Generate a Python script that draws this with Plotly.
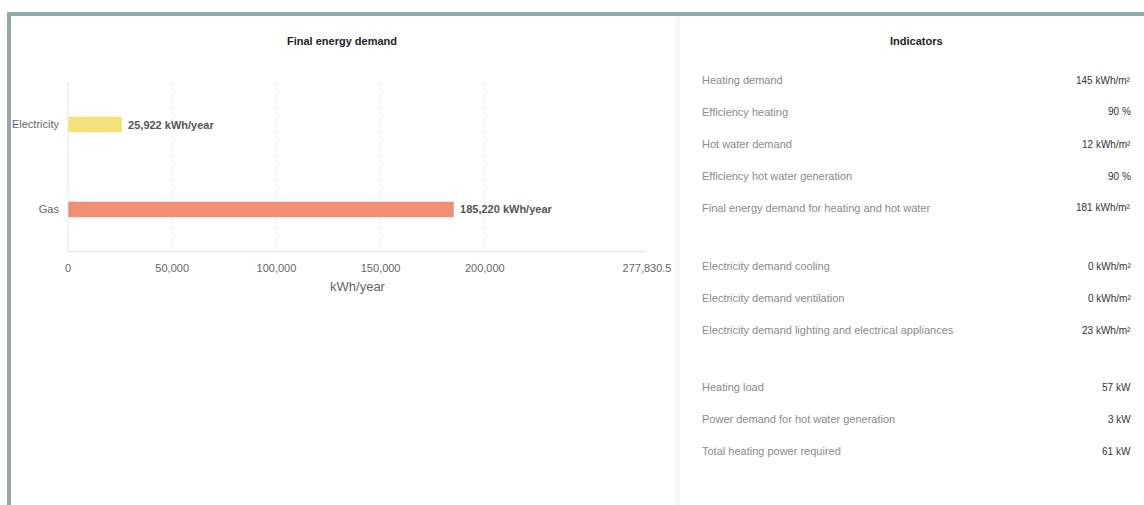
import plotly.graph_objects as go

# ---- data ----
categories = ["Electricity", "Gas"]
demand_kwh = [25922, 185220]
bar_colors = ["#f4e17a", "#f08e74"]
axis_max = 277830.5
tick_values = [0, 50000, 100000, 150000, 200000, 277830.5]
tick_labels = ["0", "50,000", "100,000", "150,000", "200,000", "277,830.5"]

indicator_labels = [
    "Heating demand", "Efficiency heating", "Hot water demand",
    "Efficiency hot water generation", "Final energy demand for heating and hot water",
    "Electricity demand cooling", "Electricity demand ventilation",
    "Electricity demand lighting and electrical appliances",
    "Heating load", "Power demand for hot water generation", "Total heating power required",
]
indicator_values = [
    "145 kWh/m²", "90 %", "12 kWh/m²", "90 %", "181 kWh/m²",
    "0 kWh/m²", "0 kWh/m²", "23 kWh/m²",
    "57 kW", "3 kW", "61 kW",
]
indicator_rows_px = [80, 112, 144, 176, 208, 266, 298, 330, 387, 419, 451]

W, H = 1144, 505
FONT = "Liberation Sans, Arial, sans-serif"


def px(x):
    return x / W


def py(y):
    return 1 - y / H


fig = go.Figure()
fig.add_trace(go.Bar(
    x=demand_kwh, y=categories, orientation="h",
    marker=dict(color=bar_colors, line=dict(color="rgba(255,255,255,0.5)", width=1)),
    width=0.19,
    text=["\u00a0" + f"{v:,} kWh/year" for v in demand_kwh],
    texttemplate="<b>%{text}</b>",
    textposition="outside",
    textfont=dict(family=FONT, size=11, color="#555555"),
    cliponaxis=False,
    hoverinfo="skip",
))

fig.update_layout(
    width=W, height=H,
    margin=dict(l=0, r=0, t=0, b=0),
    paper_bgcolor="white", plot_bgcolor="white",
    showlegend=False,
    font=dict(family=FONT, color="#666666", size=11),
    xaxis=dict(
        domain=[px(68), px(647)], range=[0, axis_max],
        tickvals=tick_values, ticktext=tick_labels,
        showgrid=True, gridcolor="#e8e8e8", griddash="dot", gridwidth=1,
        showline=False, zeroline=False, ticks="", automargin=False,
        tickfont=dict(size=11, color="#666666"),
        ticklabelstandoff=8,
        title=dict(text="kWh/year", font=dict(size=13, color="#666666"), standoff=8),
    ),
    yaxis=dict(
        domain=[py(252), py(82)], range=[1.5, -0.5],
        showgrid=False, zeroline=False, showline=False, ticks="", automargin=False,
        tickfont=dict(size=11, color="#666666"),
        ticklabelstandoff=8,
    ),
)

shapes = [
    # outer frame
    dict(type="rect", xref="paper", yref="paper", x0=px(7), x1=1, y0=py(16), y1=py(12),
         fillcolor="#8fa9ad", line=dict(width=0), layer="above"),
    dict(type="rect", xref="paper", yref="paper", x0=px(7), x1=px(11), y0=0, y1=py(12),
         fillcolor="#8fa9ad", line=dict(width=0), layer="above"),
    # divider between panels
    dict(type="rect", xref="paper", yref="paper", x0=px(675), x1=px(680), y0=0, y1=py(16),
         fillcolor="#f7f7f7", line=dict(width=0), layer="below"),
    # axis lines
    dict(type="line", xref="paper", yref="paper", x0=px(68), x1=px(68), y0=py(252), y1=py(82),
         line=dict(color="#e6e6e6", width=1), layer="below"),
    dict(type="line", xref="paper", yref="paper", x0=px(68), x1=px(647), y0=py(251.5), y1=py(251.5),
         line=dict(color="#e6e6e6", width=1.5), layer="below"),
]

annotations = [
    dict(text="<b>Final energy demand</b>", x=px(342), y=py(41), xref="paper", yref="paper",
         showarrow=False, font=dict(size=11, color="#222222"), xanchor="center", yanchor="middle"),
    dict(text="<b>Indicators</b>", x=px(916), y=py(41), xref="paper", yref="paper",
         showarrow=False, font=dict(size=11, color="#222222"), xanchor="center", yanchor="middle"),
]
for lab, val, ypx in zip(indicator_labels, indicator_values, indicator_rows_px):
    annotations.append(dict(text=lab, x=px(700), y=py(ypx), xref="paper", yref="paper",
                            showarrow=False, xanchor="left", yanchor="middle",
                            font=dict(size=11, color="#8a8a8a")))
    annotations.append(dict(text=val, x=px(1133), y=py(ypx), xref="paper", yref="paper",
                            showarrow=False, xanchor="right", yanchor="middle",
                            font=dict(size=10, color="#333333")))

fig.update_layout(shapes=shapes, annotations=annotations)

post = """
document.documentElement.style.margin='0';
document.body.style.margin='0';
document.documentElement.style.overflow='hidden';
document.body.style.overflow='hidden';
"""
fig.write_html("out.html", post_script=post)
